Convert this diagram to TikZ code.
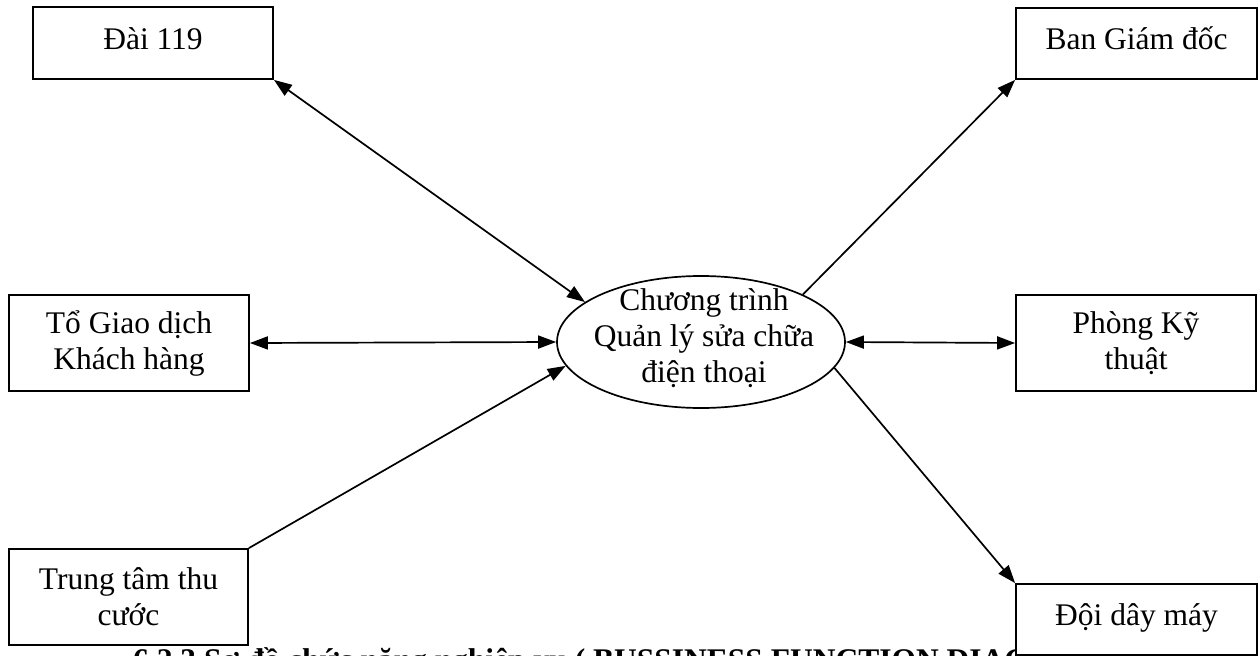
\documentclass[tikz,border=0pt]{standalone}
\usepackage{fontspec}
\setmainfont{Liberation Serif}
\usetikzlibrary{shapes.geometric,arrows.meta}
\begin{document}
\begin{tikzpicture}[x=1pt,y=-1pt,
  labelfont/.style={font=\fontsize{31.5}{36}\selectfont},
  box/.style={draw, line width=1.8pt, fill=white, inner sep=0pt, align=center, labelfont},
  oneline/.style={text height=22pt, text depth=10pt},
  link/.style={line width=1.7pt},
  head/.tip={Triangle[length=18pt,width=13pt]},
  onehead/.style={link, -head},
  twohead/.style={link, head-head}]
% page frame
\clip (0,0) rectangle (1259,656);
% section heading running along the bottom edge
\node[anchor=base west, inner sep=0pt, font=\bfseries\fontsize{31.5}{36}\selectfont] (caption) at (133,670)
  {6.2.3 Sơ đồ chức năng nghiệp vụ ( BUSSINESS FUNCTION DIAGRAM )};
% external units
\node[box, oneline, minimum width=240pt, minimum height=72pt] (dai) at (153,43) {Đài 119};
\node[box, oneline, minimum width=241pt, minimum height=71pt] (ban) at (1136.5,43.5) {Ban Giám đốc};
\node[box, minimum width=240pt, minimum height=96pt] (gd) at (129,343) {Tổ Giao dịch\\Khách hàng};
\node[box, minimum width=240pt, minimum height=96pt] (kt) at (1136,343) {Phòng Kỹ\\thuật};
\node[box, minimum width=239pt, minimum height=96pt] (tt) at (128.5,597) {Trung tâm thu\\cước};
\node[box, oneline, minimum width=241pt, minimum height=71pt] (doi) at (1136.5,619.5) {Đội dây máy};
% central program
\node[draw, ellipse, line width=1.7pt, minimum width=288pt, minimum height=132pt, inner sep=0pt] (core) at (701,342) {};
\node[align=center, labelfont, inner sep=0pt] (coretext) at (704,338) {Chương trình\\Quản lý sửa chữa\\điện thoại};
% data flows
\draw[twohead] (dai.south east) -- (core.161);
\draw[onehead] (core.25) -- (ban.south west);
\draw[twohead] (gd.east) -- (core.west);
\draw[twohead] (core.east) -- (kt.west);
\draw[onehead] (tt.north east) -- (core.190);
\draw[onehead] (core.-11) -- (doi.north west);
\end{tikzpicture}
\end{document}
